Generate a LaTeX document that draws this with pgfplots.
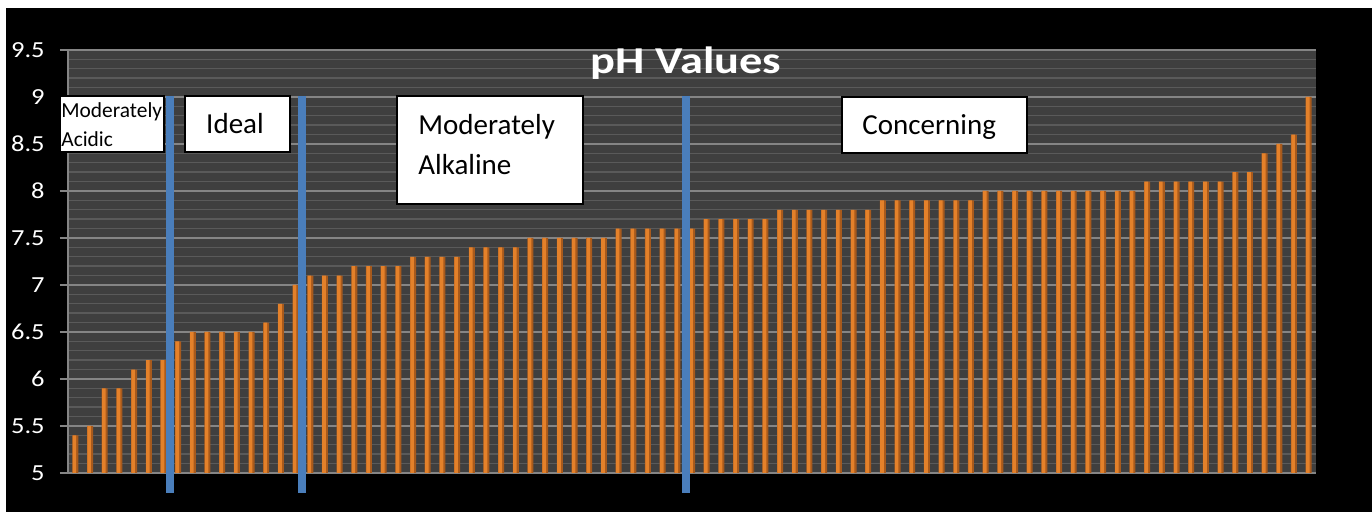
\documentclass[border=0pt]{standalone}
\usepackage{pgfplots}
\usepackage{pgfplotstable}
\pgfplotsset{compat=1.18}
\usepackage{fontspec}
\setmainfont{Carlito}
\definecolor{plotbg}{HTML}{3F3F3F}
\definecolor{minorg}{HTML}{5A5A5A}
\definecolor{majorg}{HTML}{858585}
\definecolor{bardark}{HTML}{A85A1C}
\definecolor{barlight}{HTML}{E4812A}
\definecolor{blueline}{HTML}{4A7EBB}
\pgfplotstableread{
ph
5.4
5.5
5.9
5.9
6.1
6.2
6.2
6.4
6.5
6.5
6.5
6.5
6.5
6.6
6.8
7.0
7.1
7.1
7.1
7.2
7.2
7.2
7.2
7.3
7.3
7.3
7.3
7.4
7.4
7.4
7.4
7.5
7.5
7.5
7.5
7.5
7.5
7.6
7.6
7.6
7.6
7.6
7.6
7.7
7.7
7.7
7.7
7.7
7.8
7.8
7.8
7.8
7.8
7.8
7.8
7.9
7.9
7.9
7.9
7.9
7.9
7.9
8.0
8.0
8.0
8.0
8.0
8.0
8.0
8.0
8.0
8.0
8.0
8.1
8.1
8.1
8.1
8.1
8.1
8.2
8.2
8.4
8.5
8.6
9.0
}\phdata
\begin{document}
\begin{tikzpicture}
\fill[white] (0,0) rectangle (686pt,256pt);
\fill[black] (3pt,0) rectangle (686pt,252pt);
\begin{axis}[
  at={(34pt,19.5pt)}, anchor=south west, scale only axis,
  width=624pt, height=211.5pt,
  xmin=-0.5, xmax=84.5, ymin=5, ymax=9.5,
  ytick={5,5.5,6,6.5,7,7.5,8,8.5,9,9.5},
  minor y tick num=4,
  xtick=\empty,
  axis background/.style={fill=plotbg},
  axis x line*=bottom, axis y line*=left,
  axis line style={majorg, line width=0.8pt, -},
  ymajorgrids, yminorgrids,
  major grid style={majorg, line width=0.8pt},
  minor grid style={minorg, line width=0.7pt},
  tick align=outside, major tick length=4pt, minor tick length=0pt,
  tick style={majorg, line width=0.8pt},
  /pgf/number format/assume math mode=true,
  yticklabel style={font=\fontsize{11.5}{12}\selectfont, text=white, anchor=east, inner sep=0pt, xshift=-7.5pt},
  yticklabel={\scalebox{1.15}[1]{\pgfmathprintnumber{\tick}}},
]
\addplot[ybar, bar width=3pt, bar shift=0pt, fill=bardark, draw=none] table[x expr=\coordindex, y=ph] {\phdata};
\addplot[ybar, bar width=1.8pt, bar shift=-0.45pt, fill=barlight, draw=none] table[x expr=\coordindex, y=ph] {\phdata};
\end{axis}
\begin{axis}[
  at={(34pt,19.5pt)}, anchor=south west, scale only axis,
  width=624pt, height=211.5pt,
  xmin=-0.5, xmax=84.5, ymin=5, ymax=9.5,
  hide axis, clip=false]
\addplot[blueline, line width=4pt, line cap=butt] coordinates {(6.43,4.79) (6.43,9.014)};
\addplot[blueline, line width=4pt, line cap=butt] coordinates {(15.44,4.79) (15.44,9.014)};
\addplot[blueline, line width=4pt, line cap=butt] coordinates {(41.58,4.79) (41.58,9.014)};
\end{axis}
\node[anchor=base, inner sep=0pt, text=white, font=\fontsize{19}{22}\selectfont\bfseries] at (343pt,219.3pt) {\scalebox{1.22}[1]{pH Values}};
\draw[fill=white, draw=black, line width=0.75pt] (30pt,180pt) rectangle (82pt,208pt);
\node[anchor=base west, inner sep=0pt, font=\fontsize{10.7}{12}\selectfont] at (30.5pt,197pt) {Moderately};
\node[anchor=base west, inner sep=0pt, font=\fontsize{10.7}{12}\selectfont] at (30.5pt,182.5pt) {Acidic};
\draw[fill=white, draw=black, line width=0.75pt] (92.5pt,180pt) rectangle (145pt,208pt);
\node[anchor=base, inner sep=0pt, font=\fontsize{14.5}{16}\selectfont] at (117.5pt,189pt) {Ideal};
\draw[fill=white, draw=black, line width=0.75pt] (198.5pt,154pt) rectangle (291.5pt,208pt);
\node[anchor=base west, inner sep=0pt, font=\fontsize{14.5}{16}\selectfont] at (209pt,188.5pt) {Moderately};
\node[anchor=base west, inner sep=0pt, font=\fontsize{14.5}{16}\selectfont] at (209pt,168.5pt) {Alkaline};
\draw[fill=white, draw=black, line width=0.75pt] (421pt,179.5pt) rectangle (513.5pt,207.5pt);
\node[anchor=base west, inner sep=0pt, font=\fontsize{14.5}{16}\selectfont] at (431pt,188.5pt) {Concerning};
\end{tikzpicture}
\end{document}
